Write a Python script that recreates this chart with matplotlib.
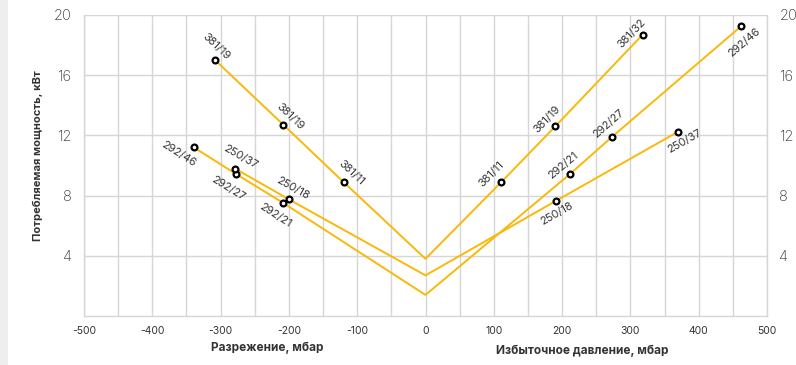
import numpy as np
import matplotlib
matplotlib.use("Agg")
import matplotlib.pyplot as plt
from matplotlib.patches import Rectangle

plt.rcParams['font.family'] = ['Inter', 'DejaVu Sans']
plt.rcParams['axes.unicode_minus'] = False

# Pump series: pressure (mbar, negative = vacuum) vs. power consumption (kW)
s381_x = [-308, -208, -120, 0, 111, 190, 318]
s381_y = [17.0, 12.7, 8.9, 3.8, 8.9, 12.6, 18.7]
s381_labels = ["381/19", "381/19", "381/11", None, "381/11", "381/19", "381/32"]

s292_x = [-339, -278, -208, 0, 212, 273, 462]
s292_y = [11.2, 9.45, 7.5, 1.4, 9.45, 11.9, 19.25]
s292_labels = ["292/46", "292/27", "292/21", None, "292/21", "292/27", "292/46"]

s250_x = [-279, -200, 0, 191, 370]
s250_y = [9.8, 7.75, 2.7, 7.65, 12.25]
s250_labels = ["250/37", "250/18", None, "250/18", "250/37"]

x_ticks = [-500, -400, -300, -200, -100, 0, 100, 200, 300, 400, 500]
y_ticks = [4, 8, 12, 16, 20]

# label offsets in pixels (dx right, dy up)
s381_off = [(1, 14), (7, 8), (8, 9), None, (-10, 8), (-8, 7), (-11, 1)]
s292_off = [(-15, -6), (-7, -15), (-8, -12), None, (-7, 8), (-3, 13), (3, -16)]
s250_off = [(5, 12), (4, 11), None, (1, -13), (6, -10)]

LINE = "#F9B80A"
TEXT = "#333333"
GRID = "#d6d6d6"

fig = plt.figure(figsize=(7.96, 3.65), dpi=100)
fig.patches.append(Rectangle((0, 0), 8 / 796, 1, transform=fig.transFigure,
                             facecolor="#eeeeee", edgecolor="none", zorder=0))
ax = fig.add_axes([84 / 796, 49 / 365, (767 - 84) / 796, (316 - 15) / 365])
ax.set_xlim(-500, 500)
ax.set_ylim(0, 20)

ax.set_xticks(x_ticks)
ax.set_xticks(np.arange(-450, 500, 100), minor=True)
ax.set_yticks(y_ticks)
ax.grid(True, which="both", color=GRID, linewidth=1.0)
ax.set_axisbelow(True)
for sp in ax.spines.values():
    sp.set_color(GRID)
    sp.set_linewidth(1.0)
ax.spines['top'].set_visible(False)
ax.tick_params(axis="x", which="both", length=0, pad=7, labelsize=7.5, labelcolor=TEXT)
ax.tick_params(axis="y", length=0, pad=9, labelsize=10.5, labelcolor=TEXT,
               labelright=True, labelleft=True)
for t in ax.yaxis.get_majorticklabels():
    t.set_fontweight("light")

ax.set_ylabel("Потребляемая мощность, кВт", fontsize=8, fontweight="bold",
              color=TEXT)
ax.yaxis.set_label_coords(-(84 - 43) / 683, (316 - 156) / 301)

fig.text(267.5 / 796, 1 - 348 / 365, "Разрежение, мбар", ha="center", va="center",
         fontsize=8.5, fontweight="bold", color=TEXT)
fig.text(582.5 / 796, 1 - 350.5 / 365, "Избыточное давление, мбар", ha="center",
         va="center", fontsize=8.5, fontweight="bold", color=TEXT)


def draw_series(xs, ys, labels, offs):
    ax.plot(xs, ys, color=LINE, linewidth=1.4, zorder=2)
    idx = [i for i, l in enumerate(labels) if l is not None]
    ax.plot([xs[i] for i in idx], [ys[i] for i in idx], linestyle="none",
            marker="o", markersize=4.2, markerfacecolor="white",
            markeredgecolor="black", markeredgewidth=1.6, zorder=3)
    disp = ax.transData.transform(np.column_stack([xs, ys]))
    for i in idx:
        j = i + 1 if xs[i] < 0 else i - 1
        a, b = (disp[i], disp[j]) if disp[i][0] < disp[j][0] else (disp[j], disp[i])
        ang = np.degrees(np.arctan2(b[1] - a[1], b[0] - a[0]))
        dx, dy = offs[i]
        ax.annotate(labels[i], (xs[i], ys[i]), xytext=(dx * 0.72, dy * 0.72),
                    textcoords="offset points", ha="center", va="center",
                    rotation=ang, rotation_mode="anchor", fontsize=8,
                    color=TEXT, zorder=4)


draw_series(s381_x, s381_y, s381_labels, s381_off)
draw_series(s292_x, s292_y, s292_labels, s292_off)
draw_series(s250_x, s250_y, s250_labels, s250_off)

fig.savefig("out.png", dpi=100, facecolor="white")
